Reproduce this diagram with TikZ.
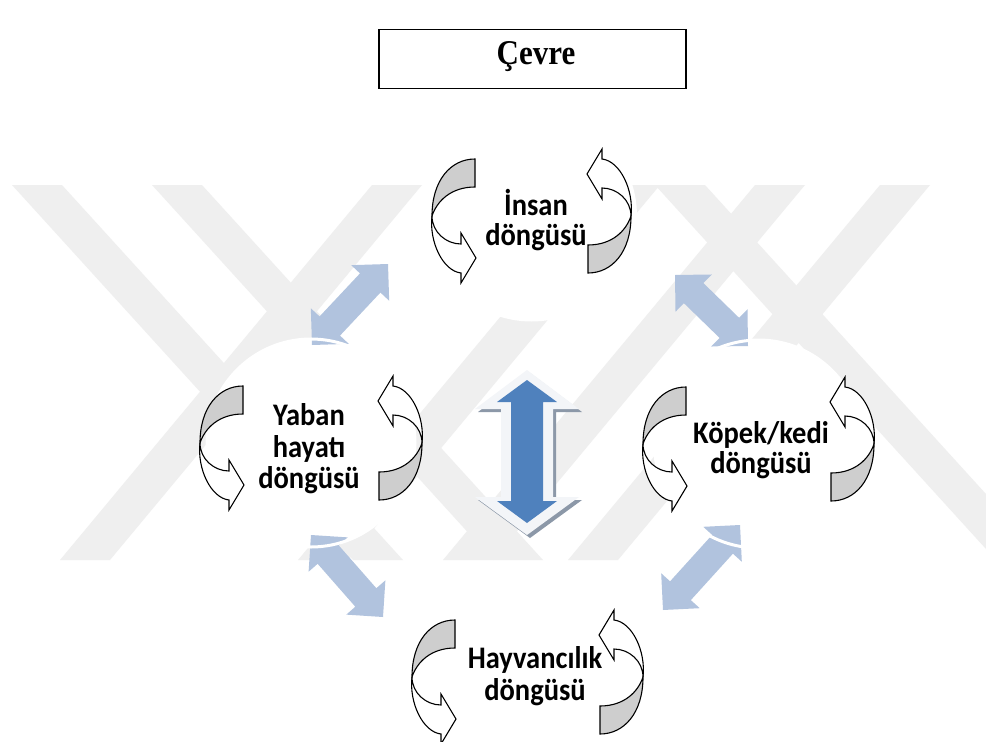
\documentclass[tikz,border=0pt]{standalone}
\usepackage{fontspec}
\setmainfont{Liberation Serif}
\newfontfamily\lblfont{Carlito}
\usetikzlibrary{calc}
\definecolor{wm}{RGB}{239,239,239}
\definecolor{arrlight}{RGB}{177,195,222}
\definecolor{arrdark}{RGB}{79,129,189}
\definecolor{tailgray}{RGB}{206,206,206}
\definecolor{bevel}{RGB}{243,245,248}
\definecolor{bevelshadow}{RGB}{140,152,168}
\newcommand{\dblarrow}[2]{%
  \coordinate (hA) at ($(#1)!26pt!(#2)$);
  \coordinate (hB) at ($(#2)!26pt!(#1)$);
  \fill[arrlight] (#1) -- ($(hA)!26pt!90:(#2)$) -- ($(hA)!14pt!90:(#2)$)
    -- ($(hB)!14pt!-90:(#1)$) -- ($(hB)!26pt!-90:(#1)$) -- (#2)
    -- ($(hB)!26pt!90:(#1)$) -- ($(hB)!14pt!90:(#1)$)
    -- ($(hA)!14pt!-90:(#2)$) -- ($(hA)!26pt!-90:(#2)$) -- cycle;}
\newcommand{\tall}[1]{\scalebox{1}[1.1]{#1}}
\tikzset{
  larr/.pic={
    \filldraw[fill=tailgray] (0,-57) .. controls (-24,-57) and (-43,-36) .. (-43,0)
      .. controls (-38,-15) and (-24,-29) .. (0,-29) -- cycle;
    \filldraw[fill=white] (-43,0) .. controls (-43,16) and (-29,28) .. (-14,28)
      -- (-14,17) -- (1,42) -- (-14,67) -- (-14,57)
      .. controls (-32,55) and (-46,26) .. (-43,0) -- cycle;
  },
  lbl/.style={font=\lblfont\bfseries\fontsize{28.5}{31}\selectfont, inner sep=0pt, anchor=base}
}
\begin{document}
\begin{tikzpicture}[x=1pt,y=-1pt,line join=miter,line width=1.1pt]
\useasboundingbox (0,0) rectangle (986,742);
\fill[white] (0,0) rectangle (986,742);

% watermark
\begin{scope}
  \clip (0,185) rectangle (986,560);
  \foreach \t in {12,152,655}
    \fill[wm] (\t,185) -- (\t+50,185) -- (\t+391,560) -- (\t+341,560) -- cycle;
  \foreach \t in {372,610,755,880}
    \fill[wm] (\t,185) -- (\t+50,185) -- (\t-262,560) -- (\t-312,560) -- cycle;
\end{scope}

% cycle centres
\coordinate (cIns) at (531.5,216);
\coordinate (cYab) at (311,443);
\coordinate (cKop) at (758.5,444);
\coordinate (cHay) at (527.5,677);

\foreach \c in {cIns,cYab,cKop,cHay} \fill[white] (\c) circle (104);

% light blue double arrows
\coordinate (a1s) at (312,345); \coordinate (a1e) at (388,264);
\coordinate (a2s) at (675,275); \coordinate (a2e) at (748,346);
\coordinate (a3s) at (311,535); \coordinate (a3e) at (383,617);
\coordinate (a4s) at (740,525); \coordinate (a4e) at (663,610);
\dblarrow{a1s}{a1e}
\dblarrow{a2s}{a2e}
\dblarrow{a3s}{a3e}
\dblarrow{a4s}{a4e}

\foreach \c in {cIns,cYab,cKop,cHay} \draw[white, line width=3pt] (\c) circle (104);

% central double arrow
\fill[bevelshadow, shift={(3,3)}] (527,370) -- (579,409) -- (553,409) -- (553,497) -- (579,497)
  -- (527,535) -- (475,497) -- (501,497) -- (501,409) -- (475,409) -- cycle;
\fill[bevel] (527,370) -- (579,409) -- (553,409) -- (553,497) -- (579,497)
  -- (527,535) -- (475,497) -- (501,497) -- (501,409) -- (475,409) -- cycle;
\fill[arrdark] (527,380) -- (557,402) -- (543,402) -- (543,501) -- (557,501)
  -- (527,523) -- (497,501) -- (511,501) -- (511,402) -- (497,402) -- cycle;

% cycle arrows
\pic at (475,216) {larr};
\pic[rotate=180] at (588,216) {larr};
\pic at (243,443) {larr};
\pic[rotate=180] at (379,443) {larr};
\pic at (686,444) {larr};
\pic[rotate=180] at (831,444) {larr};
\pic at (455,677) {larr};
\pic[rotate=180] at (600,677) {larr};

% labels
\node[lbl] (ins1) at (536,215) {\tall{İnsan}};
\node[lbl] (ins2) at (536,245) {\tall{döngüsü}};
\node[lbl] (yab1) at (309,425) {\tall{Yaban}};
\node[lbl] (yab2) at (309,457) {\tall{hayatı}};
\node[lbl] (yab3) at (309,488) {\tall{döngüsü}};
\node[lbl] (kop1) at (761,443) {\tall{Köpek/kedi}};
\node[lbl] (kop2) at (761,473) {\tall{döngüsü}};
\node[lbl] (hay1) at (535,668) {\tall{Hayvancılık}};
\node[lbl] (hay2) at (535,700) {\tall{döngüsü}};

% title
\node[draw, line width=1.2pt, minimum width=307pt, minimum height=59pt, inner sep=0pt] (title) at (532.5,59) {};
\node[font=\bfseries\fontsize{31}{36}\selectfont, inner sep=0pt, anchor=base] (titletxt) at (536,64) {\scalebox{1}[1.12]{Çevre}};
\end{tikzpicture}
\end{document}
